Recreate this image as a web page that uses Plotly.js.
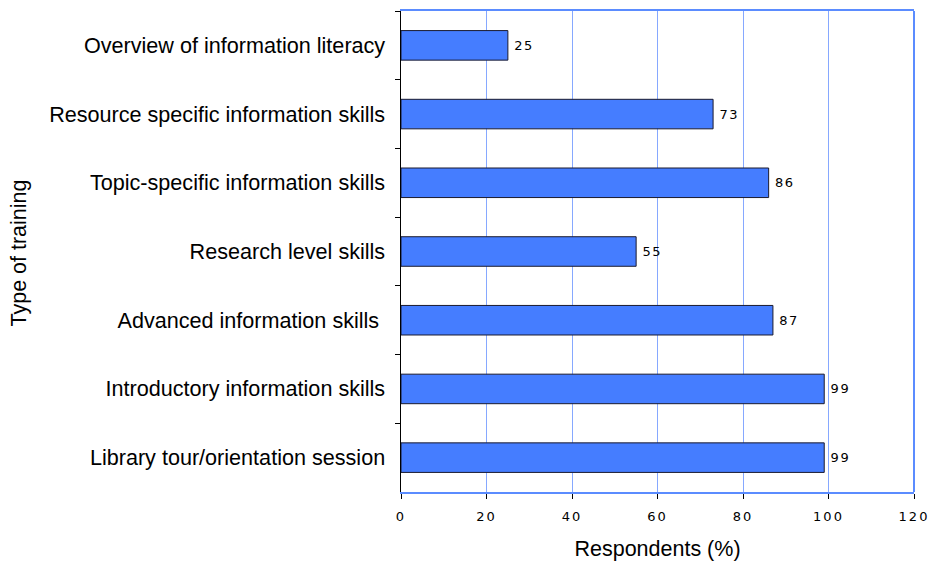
<!DOCTYPE html>
<html><head><meta charset="utf-8">
<script src="https://cdn.plot.ly/plotly-3.0.1.min.js"></script>
<style>
body{margin:0;background:#fff}#c{width:936px;height:562px}
#c .xtick text{letter-spacing:2px}
#c .bars text{letter-spacing:1.5px}
</style>
</head><body><div id="c"></div>
<script>
const categories = [
  "Overview of information literacy",
  "Resource specific information skills",
  "Topic-specific information skills",
  "Research level skills",
  "Advanced information skills ",
  "Introductory information skills",
  "Library tour/orientation session"
];
const values = [25, 73, 86, 55, 87, 99, 99];
const xTicks = [0, 20, 40, 60, 80, 100, 120];

const trace = {
  type: "bar", orientation: "h",
  y: categories, x: values,
  texttemplate: "\u00a0%{x}", textposition: "outside",
  cliponaxis: false,
  textfont: {family: "DejaVu Sans", size: 13, color: "#000"},
  marker: {color: "#457dff", line: {color: "#1a1a2e", width: 1}},
  hoverinfo: "none"
};
const layout = {
  width: 936, height: 562,
  margin: {l: 401, r: 22, t: 11, b: 70},
  paper_bgcolor: "#fff", plot_bgcolor: "#fff",
  bargap: 0.57,
  showlegend: false,
  font: {family: "Liberation Sans, Arial, sans-serif", color: "#000"},
  xaxis: {
    range: [0, 120], tickvals: xTicks, ticktext: xTicks.map(String),
    showgrid: true, gridcolor: "#86a8ff", gridwidth: 1,
    showline: true, linecolor: "#5b8cff", linewidth: 2, mirror: true,
    ticks: "outside", ticklen: 5, tickcolor: "#000",
    tickfont: {family: "DejaVu Sans", size: 13, color: "#000"},
    ticklabelstandoff: 6,
    zeroline: false,
    title: {text: "Respondents (%)", font: {family: "Liberation Sans, Arial", size: 21.5}, standoff: 18}
  },
  yaxis: {
    autorange: "reversed", type: "category",
    showline: true, linecolor: "#000", linewidth: 1.5,
    ticks: "outside", ticklen: 5, tickcolor: "#000", tickson: "boundaries",
    showgrid: false, zeroline: false,
    tickfont: {family: "Liberation Sans, Arial", size: 21.6, color: "#000"},
    ticklabelstandoff: 10,
    title: {text: ""}
  },
  annotations: [
    {text: "Type of training", xref: "paper", yref: "paper", x: 0, y: 0.5,
     xanchor: "center", yanchor: "middle", xshift: -383, yshift: -2,
     textangle: -90, showarrow: false,
     font: {family: "Liberation Sans, Arial", size: 21.5, color: "#000"}}
  ],
  shapes: [
    {type: "line", xref: "paper", yref: "paper", x0: 1, x1: 1, y0: 0, y1: 1,
     line: {color: "#5b8cff", width: 2}}
  ]
};
Plotly.newPlot("c", [trace], layout, {displayModeBar: false, staticPlot: true});
</script></body></html>
